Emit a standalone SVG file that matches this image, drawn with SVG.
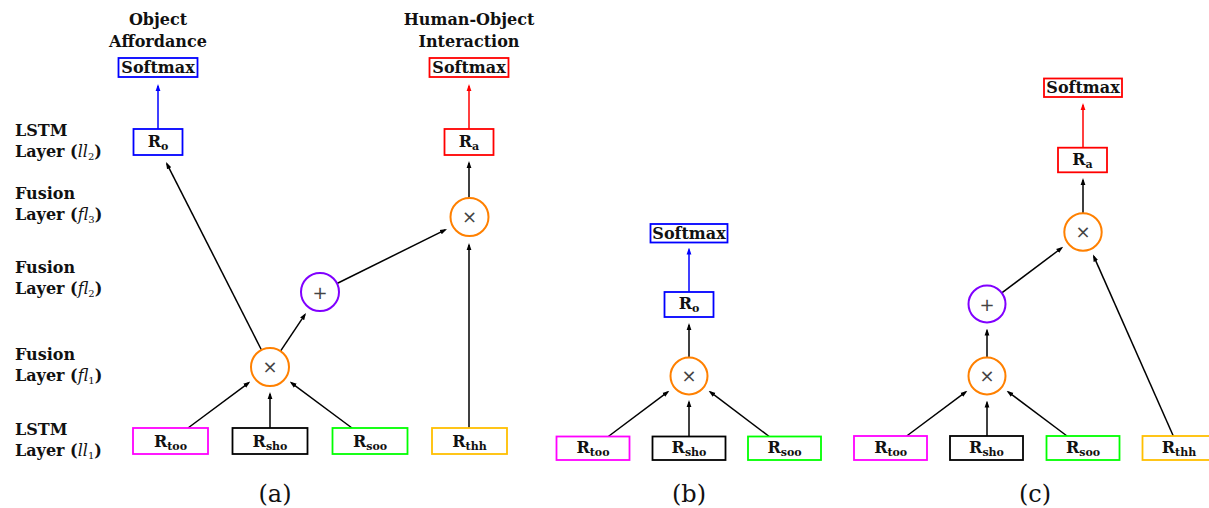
<svg xmlns="http://www.w3.org/2000/svg" width="1209" height="508" viewBox="0 0 1209 508">
  <defs>
    <marker id="ah" viewBox="0 0 7 6" refX="5" refY="3" markerWidth="7" markerHeight="6" markerUnits="userSpaceOnUse" orient="auto">
      <path d="M0,0.6 L7,3 L0,5.4 z" fill="#000"/>
    </marker>
    <marker id="ah-blue" viewBox="0 0 7 6" refX="5" refY="3" markerWidth="7" markerHeight="6" markerUnits="userSpaceOnUse" orient="auto">
      <path d="M0,0.6 L7,3 L0,5.4 z" fill="#0000ff"/>
    </marker>
    <marker id="ah-red" viewBox="0 0 7 6" refX="5" refY="3" markerWidth="7" markerHeight="6" markerUnits="userSpaceOnUse" orient="auto">
      <path d="M0,0.6 L7,3 L0,5.4 z" fill="#ff0000"/>
    </marker>
  </defs>
  <style>
    .lbl{font-family:"DejaVu Serif","Liberation Serif",serif;font-weight:bold;font-size:16px;fill:#111}
    .mid{text-anchor:middle}
    .sub{font-size:11px}
    .m{font-style:italic;font-weight:normal}
    .d{font-weight:normal;font-size:10px}
    .box{fill:#fff;stroke-width:1.8}
    .op{fill:#fff;stroke-width:2}
    .sym{font-family:"DejaVu Sans","Liberation Sans",sans-serif;font-size:18px;fill:#444;text-anchor:middle}
    .edge{stroke:#000;stroke-width:1.5;fill:none;marker-end:url(#ah)}
    .edge-blue{stroke:#0000ff;stroke-width:1.5;fill:none;marker-end:url(#ah-blue)}
    .edge-red{stroke:#ff0000;stroke-width:1.5;fill:none;marker-end:url(#ah-red)}
    .cap{font-family:"DejaVu Serif","Liberation Serif",serif;font-size:24px;text-anchor:middle;fill:#111}
    .blue{stroke:#0000ff}.red{stroke:#ff0000}.mag{stroke:#ff00ff}.blk{stroke:#000}
    .grn{stroke:#00ff00}.amb{stroke:#ffbf00}.org{stroke:#ff8000}.vio{stroke:#8000ff}
  </style>

  <rect width="1209" height="508" fill="#fff"/>

  <!-- layer names on the left -->
  <g id="layer-labels" class="lbl">
    <text x="15" y="136">LSTM</text>
    <text x="15" y="157">Layer (<tspan class="m">ll</tspan><tspan class="d" dy="3">2</tspan><tspan dy="-3">)</tspan></text>
    <text x="15" y="199">Fusion</text>
    <text x="15" y="220">Layer (<tspan class="m">fl</tspan><tspan class="d" dy="3">3</tspan><tspan dy="-3">)</tspan></text>
    <text x="15" y="273">Fusion</text>
    <text x="15" y="294">Layer (<tspan class="m">fl</tspan><tspan class="d" dy="3">2</tspan><tspan dy="-3">)</tspan></text>
    <text x="15" y="360">Fusion</text>
    <text x="15" y="381">Layer (<tspan class="m">fl</tspan><tspan class="d" dy="3">1</tspan><tspan dy="-3">)</tspan></text>
    <text x="15" y="435">LSTM</text>
    <text x="15" y="456">Layer (<tspan class="m">ll</tspan><tspan class="d" dy="3">1</tspan><tspan dy="-3">)</tspan></text>
  </g>

  <!-- output headings -->
  <g id="heading-affordance" class="lbl mid">
    <text x="158" y="25">Object</text>
    <text x="158" y="47">Affordance</text>
  </g>
  <g id="heading-interaction" class="lbl mid">
    <text x="469" y="25">Human-Object</text>
    <text x="469" y="47">Interaction</text>
  </g>

  <!-- connectors -->
  <g id="connectors">
    <!-- (a) -->
    <path class="edge-blue" d="M158,129 L158,86"/>
    <path class="edge-red" d="M469,129 L469,86"/>
    <path class="edge" d="M469,198 L469,163"/>
    <path class="edge" d="M261.5,350 L166.9,163.8"/>
    <path class="edge" d="M280.5,351.2 L304.9,314.7"/>
    <path class="edge" d="M337,283.5 L445.2,229.9"/>
    <path class="edge" d="M469,428 L469,245"/>
    <path class="edge" d="M188,428 L248.7,382.8"/>
    <path class="edge" d="M270,428 L270,394"/>
    <path class="edge" d="M352,428 L291.3,382.8"/>
    <!-- (b) -->
    <path class="edge-blue" d="M689,292 L689,249.5"/>
    <path class="edge" d="M689,357.5 L689,325"/>
    <path class="edge" d="M689,436.5 L689,402"/>
    <path class="edge" d="M608.3,436.5 L667.8,391.9"/>
    <path class="edge" d="M769.2,436.5 L710.2,391.9"/>
    <!-- (c) -->
    <path class="edge-red" d="M1083,147.7 L1083,105"/>
    <path class="edge" d="M1083,213.3 L1083,180"/>
    <path class="edge" d="M1001.8,292.9 L1061.6,248"/>
    <path class="edge" d="M987,357.5 L987,330.5"/>
    <path class="edge" d="M906.7,436 L965.8,391.9"/>
    <path class="edge" d="M987,436 L987,402.5"/>
    <path class="edge" d="M1067,436 L1008.2,391.9"/>
    <path class="edge" d="M1173.3,436 L1093.8,256.4"/>
  </g>

  <!-- ===== (a) ===== -->
  <g id="a-softmax-o">
    <rect class="box blue" x="118.5" y="58" width="79" height="19"/>
    <text class="lbl mid" x="158" y="73">Softmax</text>
  </g>
  <g id="a-softmax-a">
    <rect class="box red" x="429.5" y="58" width="79" height="19"/>
    <text class="lbl mid" x="469" y="73">Softmax</text>
  </g>
  <g id="a-ro">
    <rect class="box blue" x="133.5" y="129" width="49" height="26"/>
    <text class="lbl mid" x="158" y="146.5">R<tspan class="sub" dy="3">o</tspan></text>
  </g>
  <g id="a-ra">
    <rect class="box red" x="444.5" y="129" width="49" height="26"/>
    <text class="lbl mid" x="469" y="146.5">R<tspan class="sub" dy="3">a</tspan></text>
  </g>
  <g id="a-fl3">
    <circle class="op org" cx="469.5" cy="217" r="19"/>
    <text class="sym" x="469.5" y="223">×</text>
  </g>
  <g id="a-fl2">
    <circle class="op vio" cx="320" cy="292" r="19"/>
    <text class="sym" x="320" y="298.5">+</text>
  </g>
  <g id="a-fl1">
    <circle class="op org" cx="270" cy="367" r="19"/>
    <text class="sym" x="270" y="373">×</text>
  </g>
  <g id="a-rtoo">
    <rect class="box mag" x="133" y="428" width="75" height="26"/>
    <text class="lbl mid" x="170.5" y="446.5">R<tspan class="sub" dy="3">too</tspan></text>
  </g>
  <g id="a-rsho">
    <rect class="box blk" x="232.5" y="428" width="75" height="26"/>
    <text class="lbl mid" x="270" y="446.5">R<tspan class="sub" dy="3">sho</tspan></text>
  </g>
  <g id="a-rsoo">
    <rect class="box grn" x="332.5" y="428" width="75" height="26"/>
    <text class="lbl mid" x="370" y="446.5">R<tspan class="sub" dy="3">soo</tspan></text>
  </g>
  <g id="a-rthh">
    <rect class="box amb" x="432" y="428" width="75" height="26"/>
    <text class="lbl mid" x="469.5" y="446.5">R<tspan class="sub" dy="3">thh</tspan></text>
  </g>
  <text id="cap-a" class="cap" x="275" y="502">(a)</text>

  <!-- ===== (b) ===== -->
  <g id="b-softmax">
    <rect class="box blue" x="650.5" y="224" width="77" height="18.5"/>
    <text class="lbl mid" x="689" y="238.5">Softmax</text>
  </g>
  <g id="b-ro">
    <rect class="box blue" x="664.5" y="292" width="49" height="25"/>
    <text class="lbl mid" x="689" y="309">R<tspan class="sub" dy="3">o</tspan></text>
  </g>
  <g id="b-fl1">
    <circle class="op org" cx="689" cy="376" r="18.5"/>
    <text class="sym" x="689" y="382">×</text>
  </g>
  <g id="b-rtoo">
    <rect class="box mag" x="556.5" y="436.5" width="73" height="23.5"/>
    <text class="lbl mid" x="593" y="453">R<tspan class="sub" dy="3">too</tspan></text>
  </g>
  <g id="b-rsho">
    <rect class="box blk" x="652.5" y="436.5" width="73" height="23.5"/>
    <text class="lbl mid" x="689" y="453">R<tspan class="sub" dy="3">sho</tspan></text>
  </g>
  <g id="b-rsoo">
    <rect class="box grn" x="748" y="436.5" width="73" height="23.5"/>
    <text class="lbl mid" x="784.5" y="453">R<tspan class="sub" dy="3">soo</tspan></text>
  </g>
  <text id="cap-b" class="cap" x="689" y="502">(b)</text>

  <!-- ===== (c) ===== -->
  <g id="c-softmax">
    <rect class="box red" x="1044" y="78.5" width="78" height="18.5"/>
    <text class="lbl mid" x="1083" y="93">Softmax</text>
  </g>
  <g id="c-ra">
    <rect class="box red" x="1058" y="147.7" width="49" height="24.6"/>
    <text class="lbl mid" x="1082.5" y="164.5">R<tspan class="sub" dy="3">a</tspan></text>
  </g>
  <g id="c-fl3">
    <circle class="op org" cx="1083" cy="232" r="18.7"/>
    <text class="sym" x="1083" y="238">×</text>
  </g>
  <g id="c-fl2">
    <circle class="op vio" cx="987" cy="304" r="18.5"/>
    <text class="sym" x="987" y="310.5">+</text>
  </g>
  <g id="c-fl1">
    <circle class="op org" cx="987" cy="376" r="18.5"/>
    <text class="sym" x="987" y="382">×</text>
  </g>
  <g id="c-rtoo">
    <rect class="box mag" x="854" y="436" width="73" height="24"/>
    <text class="lbl mid" x="890.7" y="452.5">R<tspan class="sub" dy="3">too</tspan></text>
  </g>
  <g id="c-rsho">
    <rect class="box blk" x="950" y="436" width="73" height="24"/>
    <text class="lbl mid" x="986.5" y="452.5">R<tspan class="sub" dy="3">sho</tspan></text>
  </g>
  <g id="c-rsoo">
    <rect class="box grn" x="1046.5" y="436" width="73" height="24"/>
    <text class="lbl mid" x="1083" y="452.5">R<tspan class="sub" dy="3">soo</tspan></text>
  </g>
  <g id="c-rthh">
    <rect class="box amb" x="1142.5" y="436" width="73" height="24"/>
    <text class="lbl mid" x="1179" y="452.5">R<tspan class="sub" dy="3">thh</tspan></text>
  </g>
  <text id="cap-c" class="cap" x="1035" y="502">(c)</text>
</svg>
